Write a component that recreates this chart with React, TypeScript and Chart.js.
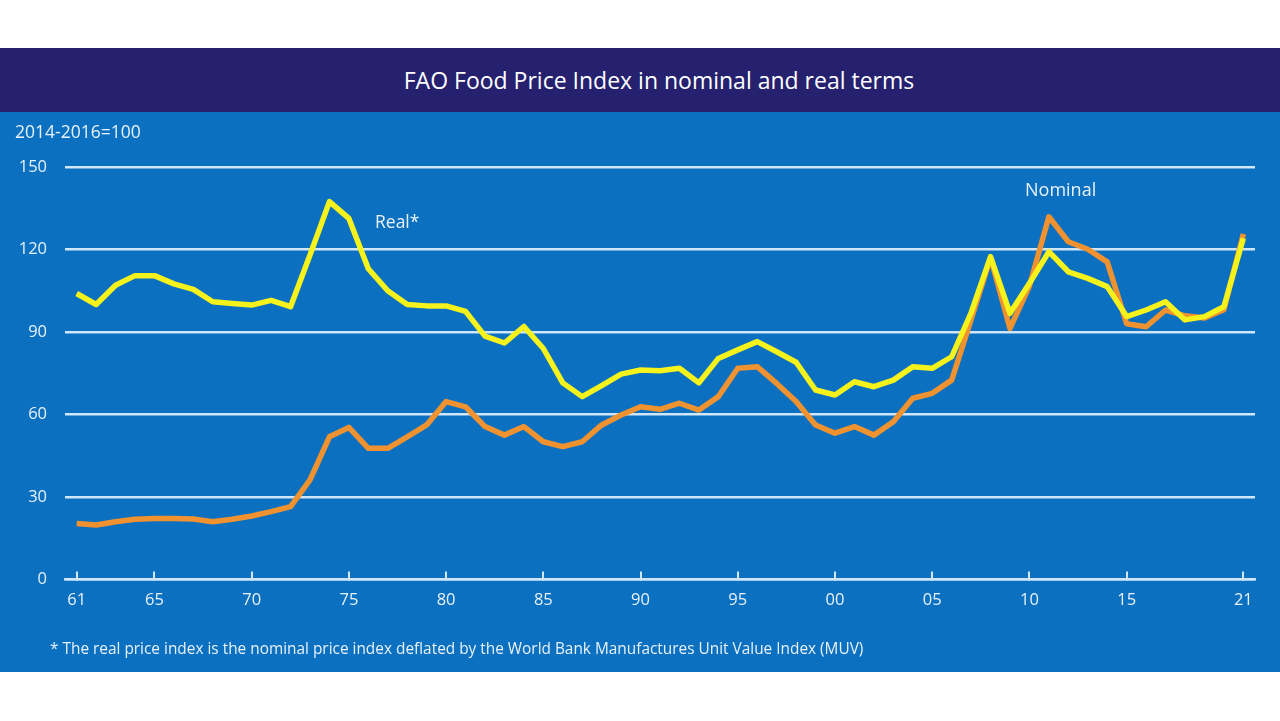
import React, { useEffect, useRef } from "react";
import { Chart, registerables } from "chart.js";

Chart.register(...registerables);

const years = [
  1961, 1962, 1963, 1964, 1965, 1966, 1967, 1968, 1969, 1970,
  1971, 1972, 1973, 1974, 1975, 1976, 1977, 1978, 1979, 1980,
  1981, 1982, 1983, 1984, 1985, 1986, 1987, 1988, 1989, 1990,
  1991, 1992, 1993, 1994, 1995, 1996, 1997, 1998, 1999, 2000,
  2001, 2002, 2003, 2004, 2005, 2006, 2007, 2008, 2009, 2010,
  2011, 2012, 2013, 2014, 2015, 2016, 2017, 2018, 2019, 2020,
  2021,
];

const realIndex = [
  104, 100, 107, 110.5, 110.5, 107.5, 105.5, 101, 100.4, 99.8,
  101.5, 99.2, 118, 137.4, 131.3, 113, 105, 100, 99.5, 99.5,
  97.5, 88.5, 86, 92, 84, 71.5, 66.5, 70.5, 74.7, 76.2,
  75.9, 76.8, 71.5, 80.4, 83.5, 86.5, 82.8, 79, 68.9, 67.1,
  71.9, 70.1, 72.5, 77.4, 76.8, 81, 97, 117.4, 96.8, 107.7,
  119.2, 111.9, 109.5, 106.5, 95.6, 98, 101, 94.4, 95.6, 99.2,
  124.1,
];

const nominalIndex = [
  20.4, 19.8, 21, 21.9, 22.2, 22.2, 22, 21, 21.9, 23.1,
  24.7, 26.5, 36.2, 51.9, 55.3, 47.7, 47.7, 51.9, 56.2, 64.7,
  62.8, 55.6, 52.5, 55.6, 50.1, 48.3, 50.1, 56.2, 59.8, 62.8,
  61.9, 64.1, 61.6, 66.5, 76.8, 77.4, 71.3, 64.7, 56.2, 53.2,
  55.6, 52.5, 57.4, 65.9, 67.7, 72.5, 94.5, 117, 91.3, 106.7,
  131.9, 122.8, 120.1, 115.5, 93, 91.9, 98, 95.9, 95.1, 98.1,
  125.7,
];

const xTickYears = [1961, 1965, 1970, 1975, 1980, 1985, 1990, 1995, 2000, 2005, 2010, 2015, 2021];
const yTickValues = [0, 30, 60, 90, 120, 150];

const TITLE = "FAO Food Price Index in nominal and real terms";
const UNIT_NOTE = "2014-2016=100";
const FOOTNOTE =
  "* The real price index is the nominal price index deflated by the World Bank Manufactures Unit Value Index (MUV)";
const REAL_LABEL = "Real*";
const NOMINAL_LABEL = "Nominal";

const FONT = '"Open Sans", "DejaVu Sans", sans-serif';
const GRID = "#cfe6fb";
const TEXT = "#e9f2fb";

export default function App() {
  const ref = useRef<HTMLCanvasElement>(null);

  useEffect(() => {
    const chart = new Chart(ref.current as HTMLCanvasElement, {
      type: "line",
      data: {
        datasets: [
          {
            label: REAL_LABEL,
            data: years.map((x, i) => ({ x, y: realIndex[i] })),
            borderColor: "#f6f21c",
            borderWidth: 5.5,
            pointRadius: 0,
            tension: 0,
            borderJoinStyle: "round",
            order: 0,
          },
          {
            label: NOMINAL_LABEL,
            data: years.map((x, i) => ({ x, y: nominalIndex[i] })),
            borderColor: "#ef922f",
            borderWidth: 5.5,
            pointRadius: 0,
            tension: 0,
            borderJoinStyle: "round",
            order: 1,
          },
        ],
      },
      options: {
        responsive: false,
        animation: false,
        layout: { padding: { top: 55, right: 25, left: 0, bottom: 0 } },
        plugins: {
          legend: { display: false },
          tooltip: { enabled: false },
          title: { display: false },
        },
        scales: {
          x: {
            type: "linear",
            min: 1960.4,
            max: 2021.6,
            afterBuildTicks: (s: any) => {
              s.ticks = xTickYears.map((v) => ({ value: v }));
            },
            afterFit: (s: any) => {
              s.height = 92.5;
            },
            grid: {
              drawOnChartArea: false,
              drawTicks: true,
              tickLength: -8,
              color: GRID,
              lineWidth: 2,
            },
            border: { display: true, color: GRID, width: 2.5 },
            ticks: {
              color: TEXT,
              font: { family: FONT, size: 16.5 },
              padding: 19,
              maxRotation: 0,
              autoSkip: false,
              callback: (v: any) => String(Number(v) % 100).padStart(2, "0"),
            },
          },
          y: {
            min: 0,
            max: 150,
            afterBuildTicks: (s: any) => {
              s.ticks = yTickValues.map((v) => ({ value: v }));
            },
            afterFit: (s: any) => {
              s.width = 65;
            },
            grid: { color: GRID, lineWidth: 2.5, drawTicks: false },
            border: { display: false },
            ticks: {
              color: TEXT,
              font: { family: FONT, size: 16.5 },
              padding: 18,
            },
          },
        },
      },
    } as any);
    return () => chart.destroy();
  }, []);

  return (
    <div
      style={{
        position: "absolute",
        left: 0,
        top: 0,
        width: 1280,
        height: 721,
        background: "#ffffff",
        overflow: "hidden",
        fontFamily: FONT,
      }}
    >
      <div
        style={{
          position: "absolute",
          left: 0,
          top: 48,
          width: 1280,
          height: 64,
          background: "#25216f",
          color: "#ffffff",
          display: "flex",
          alignItems: "center",
          justifyContent: "center",
          fontSize: 23,
          paddingLeft: 38,
          boxSizing: "border-box",
        }}
      >
        {TITLE}
      </div>
      <div
        style={{
          position: "absolute",
          left: 0,
          top: 112,
          width: 1280,
          height: 560,
          background: "#0a70bf",
        }}
      >
        <canvas ref={ref} width={1280} height={560} style={{ display: "block" }} />
        <div style={{ position: "absolute", left: 15, top: 7, color: TEXT, fontSize: 17.5 }}>{UNIT_NOTE}</div>
        <div style={{ position: "absolute", left: 375, top: 97, color: TEXT, fontSize: 17.5 }}>{REAL_LABEL}</div>
        <div style={{ position: "absolute", left: 1025, top: 65, color: TEXT, fontSize: 18 }}>{NOMINAL_LABEL}</div>
        <div style={{ position: "absolute", left: 50, top: 526, color: TEXT, fontSize: 15.4 }}>
          {FOOTNOTE}
        </div>
      </div>
    </div>
  );
}
